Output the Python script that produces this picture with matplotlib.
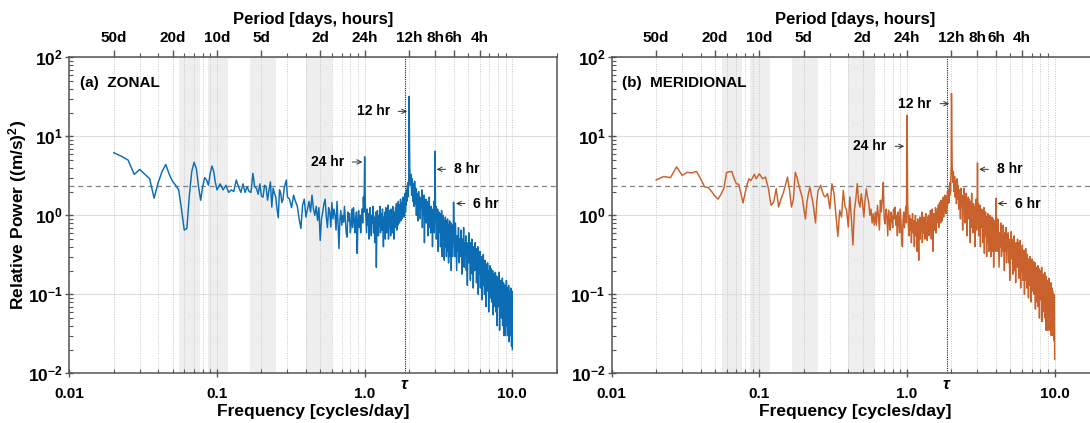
"""Zonal and meridional wind power spectra, two log-log panels."""

import matplotlib

matplotlib.use("Agg")
import matplotlib.pyplot as plt
from matplotlib.ticker import FixedLocator, FixedFormatter, NullFormatter

plt.rcParams["font.family"] = ["Liberation Sans", "DejaVu Sans"]
plt.rcParams["font.weight"] = "bold"
plt.rcParams["axes.labelweight"] = "bold"
plt.rcParams["mathtext.fontset"] = "custom"
plt.rcParams["mathtext.rm"] = "Liberation Sans:bold"
plt.rcParams["mathtext.bf"] = "Liberation Sans:bold"
plt.rcParams["mathtext.it"] = "Liberation Sans:italic"
plt.rcParams["mathtext.default"] = "bf"

# frequency grid [cycles/day]
FREQ = [
    # 0.02 - 0.1
    0.0200, 0.0225, 0.0250, 0.0275, 0.0300, 0.0325, 0.0350, 0.0375, 0.0400, 0.0425,
    0.0450, 0.0475, 0.0500, 0.0525, 0.0550, 0.0575, 0.0600, 0.0625, 0.0650, 0.0675,
    0.0700, 0.0725, 0.0750, 0.0775, 0.0800, 0.0825, 0.0850, 0.0875, 0.0900, 0.0925,
    0.0950, 0.0975, 0.1000,
    # 0.1 - 0.3
    0.105, 0.110, 0.115, 0.120, 0.125, 0.130, 0.135, 0.140, 0.145, 0.150,
    0.155, 0.160, 0.165, 0.170, 0.175, 0.180, 0.185, 0.190, 0.195, 0.200,
    0.205, 0.210, 0.215, 0.220, 0.225, 0.230, 0.235, 0.240, 0.245, 0.250,
    0.255, 0.260, 0.265, 0.270, 0.275, 0.280, 0.285, 0.290, 0.295, 0.300,
    # 0.3 - 1
    0.31, 0.32, 0.33, 0.34, 0.35, 0.36, 0.37, 0.38, 0.39, 0.40,
    0.41, 0.42, 0.43, 0.44, 0.45, 0.46, 0.47, 0.48, 0.49, 0.50,
    0.51, 0.52, 0.53, 0.54, 0.55, 0.56, 0.57, 0.58, 0.59, 0.60,
    0.61, 0.62, 0.63, 0.64, 0.65, 0.66, 0.67, 0.68, 0.69, 0.70,
    0.71, 0.72, 0.73, 0.74, 0.75, 0.76, 0.77, 0.78, 0.79, 0.80,
    0.81, 0.82, 0.83, 0.84, 0.85, 0.86, 0.87, 0.88, 0.89, 0.90,
    0.91, 0.92, 0.93, 0.94, 0.95, 0.96, 0.97, 0.98, 0.99, 1.00,
    # 1 - 2
    1.01, 1.02, 1.03, 1.04, 1.05, 1.06, 1.07, 1.08, 1.09, 1.10,
    1.11, 1.12, 1.13, 1.14, 1.15, 1.16, 1.17, 1.18, 1.19, 1.20,
    1.21, 1.22, 1.23, 1.24, 1.25, 1.26, 1.27, 1.28, 1.29, 1.30,
    1.31, 1.32, 1.33, 1.34, 1.35, 1.36, 1.37, 1.38, 1.39, 1.40,
    1.41, 1.42, 1.43, 1.44, 1.45, 1.46, 1.47, 1.48, 1.49, 1.50,
    1.51, 1.52, 1.53, 1.54, 1.55, 1.56, 1.57, 1.58, 1.59, 1.60,
    1.61, 1.62, 1.63, 1.64, 1.65, 1.66, 1.67, 1.68, 1.69, 1.70,
    1.71, 1.72, 1.73, 1.74, 1.75, 1.76, 1.77, 1.78, 1.79, 1.80,
    1.81, 1.82, 1.83, 1.84, 1.85, 1.86, 1.87, 1.88, 1.89, 1.90,
    1.91, 1.92, 1.93, 1.94, 1.95, 1.96, 1.97, 1.98, 1.99, 2.00,
    # 2 - 4
    2.02, 2.04, 2.06, 2.08, 2.10, 2.12, 2.14, 2.16, 2.18, 2.20,
    2.22, 2.24, 2.26, 2.28, 2.30, 2.32, 2.34, 2.36, 2.38, 2.40,
    2.42, 2.44, 2.46, 2.48, 2.50, 2.52, 2.54, 2.56, 2.58, 2.60,
    2.62, 2.64, 2.66, 2.68, 2.70, 2.72, 2.74, 2.76, 2.78, 2.80,
    2.82, 2.84, 2.86, 2.88, 2.90, 2.92, 2.94, 2.96, 2.98, 3.00,
    3.02, 3.04, 3.06, 3.08, 3.10, 3.12, 3.14, 3.16, 3.18, 3.20,
    3.22, 3.24, 3.26, 3.28, 3.30, 3.32, 3.34, 3.36, 3.38, 3.40,
    3.42, 3.44, 3.46, 3.48, 3.50, 3.52, 3.54, 3.56, 3.58, 3.60,
    3.62, 3.64, 3.66, 3.68, 3.70, 3.72, 3.74, 3.76, 3.78, 3.80,
    3.82, 3.84, 3.86, 3.88, 3.90, 3.92, 3.94, 3.96, 3.98, 4.00,
    # 4 - 10
    4.04, 4.08, 4.12, 4.16, 4.20, 4.24, 4.28, 4.32, 4.36, 4.40,
    4.44, 4.48, 4.52, 4.56, 4.60, 4.64, 4.68, 4.72, 4.76, 4.80,
    4.84, 4.88, 4.92, 4.96, 5.00, 5.04, 5.08, 5.12, 5.16, 5.20,
    5.24, 5.28, 5.32, 5.36, 5.40, 5.44, 5.48, 5.52, 5.56, 5.60,
    5.64, 5.68, 5.72, 5.76, 5.80, 5.84, 5.88, 5.92, 5.96, 6.00,
    6.04, 6.08, 6.12, 6.16, 6.20, 6.24, 6.28, 6.32, 6.36, 6.40,
    6.44, 6.48, 6.52, 6.56, 6.60, 6.64, 6.68, 6.72, 6.76, 6.80,
    6.84, 6.88, 6.92, 6.96, 7.00, 7.04, 7.08, 7.12, 7.16, 7.20,
    7.24, 7.28, 7.32, 7.36, 7.40, 7.44, 7.48, 7.52, 7.56, 7.60,
    7.64, 7.68, 7.72, 7.76, 7.80, 7.84, 7.88, 7.92, 7.96, 8.00,
    8.04, 8.08, 8.12, 8.16, 8.20, 8.24, 8.28, 8.32, 8.36, 8.40,
    8.44, 8.48, 8.52, 8.56, 8.60, 8.64, 8.68, 8.72, 8.76, 8.80,
    8.84, 8.88, 8.92, 8.96, 9.00, 9.04, 9.08, 9.12, 9.16, 9.20,
    9.24, 9.28, 9.32, 9.36, 9.40, 9.44, 9.48, 9.52, 9.56, 9.60,
    9.64, 9.68, 9.72, 9.76, 9.80, 9.84, 9.88, 9.92, 9.96, 10.00,
]

# relative power [(m/s)^2], zonal component
ZONAL = [
    6.2, 5.6, 5.0, 3.3, 3.8, 3.3, 2.9, 1.65, 2.6, 3.6,
    4.4, 3.3, 2.7, 2.4, 2.1, 1.2, 0.65, 0.68, 1.8, 3.6,
    4.7, 3.9, 2.3, 1.55, 2.3, 3.0, 2.8, 2.4, 3.4, 4.2,
    3.6, 2.6, 2.1,
    2.5, 2.1, 2.4, 1.95, 2.1, 2.0, 2.8, 2.3, 1.95, 2.5,
    1.95, 2.3, 2.0, 1.95, 3.4, 2.3, 2.2, 1.85, 2.5, 1.75,
    1.7, 2.4, 2.3, 1.55, 2.1, 2.65, 1.27, 2.2, 1.9, 1.7,
    1.2, 0.93, 2.1, 1.9, 1.45, 1.6, 2.2, 2.5, 2.8, 1.7,
    1.6, 1.25, 1.8, 1.5, 1.3, 0.9, 0.68, 1.35, 1.6, 0.95,
    1.2, 1.5, 1.1, 1.8, 1.2, 1.0, 1.3, 0.86, 1.25, 0.48,
    0.9, 1.1, 1.4, 1.6, 0.95, 0.7, 1.25, 1.1, 0.71, 1.45,
    0.9, 1.2, 1.0, 0.65, 1.5, 0.8, 0.38, 0.9, 1.15, 0.75,
    1.0, 0.82, 1.3, 0.9, 0.6, 0.53, 1.1, 0.85, 1.05, 0.6,
    0.75, 1.2, 0.7, 1.25, 0.9, 0.6, 0.86, 1.1, 0.33, 0.8,
    1.15, 0.7, 1.0, 0.6, 0.95, 1.2, 0.8, 1.7, 1.1, 5.5,
    1.4, 0.9, 0.6, 1.2, 0.75, 1.05, 0.5, 0.9, 1.25, 0.7,
    0.55, 1.0, 0.8, 1.3, 0.6, 0.95, 0.45, 0.85, 1.1, 0.22,
    0.7, 1.15, 0.85, 0.55, 1.0, 0.75, 1.3, 0.6, 0.9, 1.05,
    0.65, 1.2, 0.8, 0.4, 0.95, 0.7, 1.1, 0.5, 1.25, 0.85,
    0.6, 1.05, 0.75, 1.35, 0.5, 0.9, 1.15, 0.7, 1.0, 0.55,
    1.2, 0.8, 0.95, 0.6, 1.3, 0.75, 1.05, 0.5, 1.1, 0.9,
    0.7, 1.25, 0.85, 1.4, 0.65, 1.0, 1.2, 0.75, 1.5, 0.9,
    1.1, 0.8, 1.35, 0.95, 1.6, 0.85, 1.2, 1.45, 0.9, 1.3,
    1.05, 1.7, 1.2, 1.4, 0.95, 1.55, 1.25, 1.9, 1.1, 1.6,
    1.35, 2.1, 1.5, 1.8, 2.4, 1.7, 2.6, 2.2, 3.4, 32.0,
    4.0, 2.4, 3.3, 1.8, 2.9, 1.5, 2.5, 1.3, 2.7, 1.4,
    2.2, 1.0, 1.9, 1.4, 0.85, 2.0, 1.2, 1.7, 0.9, 1.6,
    1.3, 2.1, 0.7, 1.5, 1.0, 1.8, 0.45, 1.4, 1.1, 1.6,
    0.8, 1.5, 1.1, 0.55, 1.4, 0.9, 1.7, 0.7, 1.2, 0.6,
    1.3, 0.75, 1.1, 0.4, 1.2, 0.9, 1.5, 0.6, 1.0, 6.5,
    0.9, 1.3, 0.5, 1.1, 0.75, 1.2, 0.35, 0.95, 0.6, 1.1,
    0.65, 1.05, 0.4, 0.9, 0.7, 1.15, 0.3, 0.8, 0.55, 1.0,
    0.5, 0.85, 0.27, 0.8, 0.6, 0.95, 0.4, 0.75, 0.3, 0.85,
    0.5, 0.9, 0.35, 0.7, 0.25, 0.75, 0.55, 0.85, 0.3, 0.65,
    0.45, 0.8, 0.2, 0.6, 0.4, 0.75, 0.3, 0.65, 0.5, 1.47,
    0.6, 0.3, 0.8, 0.4, 0.2, 0.55, 0.35, 0.7, 0.25, 0.5,
    0.3, 0.65, 0.45, 0.18, 0.5, 0.3, 0.7, 0.22, 0.45, 0.35,
    0.55, 0.2, 0.45, 0.13, 0.4, 0.28, 0.6, 0.25, 0.35, 0.15,
    0.45, 0.25, 0.5, 0.18, 0.35, 0.12, 0.4, 0.3, 0.2, 0.45,
    0.22, 0.38, 0.14, 0.33, 0.2, 0.4, 0.1, 0.3, 0.18, 0.28,
    0.35, 0.12, 0.26, 0.17, 0.3, 0.085, 0.24, 0.15, 0.32, 0.13,
    0.22, 0.1, 0.27, 0.14, 0.2, 0.07, 0.24, 0.16, 0.11, 0.25,
    0.13, 0.2, 0.06, 0.18, 0.12, 0.23, 0.09, 0.16, 0.1, 0.21,
    0.08, 0.17, 0.12, 0.2, 0.055, 0.15, 0.1, 0.18, 0.07, 0.14,
    0.11, 0.19, 0.06, 0.14, 0.09, 0.17, 0.04, 0.12, 0.08, 0.16,
    0.07, 0.14, 0.1, 0.19, 0.035, 0.12, 0.06, 0.15, 0.08, 0.13,
    0.05, 0.12, 0.08, 0.16, 0.04, 0.11, 0.07, 0.14, 0.03, 0.1,
    0.06, 0.13, 0.045, 0.1, 0.03, 0.12, 0.07, 0.15, 0.04, 0.09,
    0.05, 0.12, 0.03, 0.1, 0.065, 0.13, 0.025, 0.09, 0.05, 0.11,
    0.04, 0.1, 0.03, 0.12, 0.05, 0.09, 0.022, 0.11, 0.035, 0.02,
]

# relative power [(m/s)^2], meridional component
MERIDIONAL = [
    2.8, 3.1, 3.0, 4.1, 3.2, 3.5, 3.45, 3.6, 2.9, 2.3,
    2.24, 2.0, 1.75, 1.6, 1.85, 2.2, 3.5, 3.55, 3.6, 2.9,
    2.5, 2.47, 1.9, 1.43, 1.9, 2.45, 2.9, 2.75, 3.0, 3.3,
    2.9, 3.1, 3.36,
    2.9, 3.05, 2.2, 1.34, 1.47, 2.17, 1.27, 1.6, 1.9, 2.4,
    3.05, 2.1, 1.27, 1.6, 3.5, 3.0, 2.4, 2.0, 1.7, 1.2,
    0.9, 1.47, 1.9, 2.28, 1.8, 1.47, 1.1, 0.8, 1.5, 2.07,
    2.2, 2.4, 2.1, 1.88, 1.75, 1.71, 1.8, 1.88, 1.5, 1.21,
    2.5, 1.9, 1.0, 0.54, 1.16, 0.95, 2.07, 1.3, 1.16, 0.71,
    1.71, 0.9, 0.42, 1.16, 1.6, 2.52, 1.5, 1.27, 1.88, 1.4,
    0.95, 1.6, 2.17, 1.7, 1.47, 1.0, 1.2, 0.8, 1.05, 0.75,
    1.1, 0.75, 1.34, 1.0, 0.65, 1.55, 1.1, 1.6, 2.6, 0.9,
    0.78, 1.2, 1.0, 0.55, 1.16, 0.8, 0.65, 1.1, 0.9, 0.7,
    1.2, 0.9, 1.27, 0.75, 1.0, 0.55, 1.1, 0.9, 0.6, 1.2,
    0.85, 0.5, 0.4, 0.9, 1.1, 0.7, 0.95, 1.3, 0.8, 18.5,
    1.5, 0.8, 0.55, 1.0, 0.65, 0.9, 0.45, 0.75, 1.05, 0.6,
    0.85, 0.4, 0.7, 1.0, 0.55, 0.8, 0.35, 0.9, 0.6, 0.27,
    0.75, 0.95, 0.5, 0.85, 0.65, 1.1, 0.45, 0.8, 0.6, 0.95,
    0.7, 0.5, 0.9, 1.05, 0.6, 0.8, 0.48, 0.95, 0.7, 1.0,
    0.55, 0.85, 0.65, 1.15, 0.75, 0.5, 0.9, 1.2, 0.6, 0.35,
    0.8, 1.05, 0.65, 0.95, 0.75, 1.25, 0.6, 0.9, 1.1, 0.8,
    1.2, 0.85, 1.35, 0.7, 1.0, 1.45, 0.9, 1.15, 0.8, 1.55,
    1.0, 1.3, 0.85, 1.45, 1.1, 1.7, 0.95, 1.35, 1.15, 1.8,
    1.25, 1.5, 1.05, 1.75, 1.3, 1.6, 1.2, 2.0, 1.4, 2.1,
    1.6, 1.9, 1.45, 2.3, 1.8, 2.6, 2.0, 3.0, 4.2, 35.0,
    4.4, 2.6, 3.6, 2.0, 3.1, 1.7, 2.7, 1.4, 2.9, 1.6,
    2.4, 1.2, 2.1, 1.5, 0.9, 2.2, 1.3, 1.8, 0.65, 1.6,
    1.4, 2.2, 0.8, 1.6, 1.1, 1.9, 0.55, 1.5, 1.2, 1.7,
    0.9, 1.6, 1.2, 0.45, 1.5, 1.0, 1.9, 0.7, 1.3, 0.6,
    1.4, 0.8, 1.2, 0.4, 1.3, 0.95, 1.6, 0.65, 1.1, 4.6,
    1.0, 1.4, 0.55, 1.2, 0.8, 1.35, 0.4, 1.05, 0.7, 1.2,
    0.75, 1.15, 0.45, 1.0, 0.8, 1.25, 0.33, 0.9, 0.6, 1.1,
    0.55, 0.95, 0.3, 0.9, 0.65, 1.05, 0.45, 0.8, 0.35, 0.95,
    0.55, 1.0, 0.4, 0.75, 0.3, 0.85, 0.6, 0.95, 0.35, 0.7,
    0.5, 0.9, 0.22, 0.65, 0.45, 0.85, 0.35, 0.7, 0.55, 1.65,
    0.65, 0.35, 0.9, 0.45, 0.22, 0.6, 0.4, 0.8, 0.3, 0.55,
    0.35, 0.75, 0.5, 0.2, 0.6, 0.35, 0.7, 0.25, 0.5, 0.4,
    0.6, 0.25, 0.5, 0.15, 0.45, 0.3, 0.62, 0.28, 0.4, 0.18,
    0.5, 0.3, 0.55, 0.2, 0.4, 0.14, 0.45, 0.32, 0.22, 0.5,
    0.27, 0.45, 0.16, 0.38, 0.24, 0.48, 0.12, 0.35, 0.2, 0.33,
    0.42, 0.15, 0.3, 0.2, 0.36, 0.1, 0.28, 0.18, 0.38, 0.15,
    0.26, 0.12, 0.32, 0.17, 0.24, 0.09, 0.28, 0.19, 0.13, 0.3,
    0.16, 0.25, 0.08, 0.22, 0.14, 0.28, 0.11, 0.2, 0.12, 0.26,
    0.1, 0.21, 0.14, 0.25, 0.065, 0.18, 0.12, 0.22, 0.08, 0.17,
    0.13, 0.23, 0.07, 0.17, 0.11, 0.21, 0.05, 0.15, 0.1, 0.2,
    0.085, 0.17, 0.12, 0.22, 0.045, 0.15, 0.075, 0.18, 0.1, 0.16,
    0.06, 0.15, 0.1, 0.19, 0.05, 0.13, 0.085, 0.17, 0.035, 0.12,
    0.07, 0.15, 0.055, 0.12, 0.035, 0.14, 0.08, 0.16, 0.05, 0.11,
    0.06, 0.13, 0.035, 0.11, 0.075, 0.14, 0.03, 0.1, 0.06, 0.12,
    0.045, 0.11, 0.03, 0.1, 0.06, 0.09, 0.026, 0.1, 0.04, 0.015,
]

SIGNIF_LEVEL = 2.33          # dashed significance line
TAU_FREQ = 1.866             # inertial frequency, cycles/day
SHADED_BANDS = [(0.0556, 0.0767), (0.0865, 0.118), (0.167, 0.25), (0.4, 0.6)]

PERIOD_TICKS = [0.02, 0.05, 0.1, 0.2, 0.5, 1, 2, 3, 4, 6]
PERIOD_LABELS = ["50d", "20d", "10d", "5d", "2d", "24h", "12h", "8h", "6h", "4h"]
FREQ_TICKS = [0.01, 0.1, 1, 10]
FREQ_LABELS = ["0.01", "0.1", "1.0", "10.0"]
POWER_TICKS = [0.01, 0.1, 1, 10, 100]
POWER_LABELS = ["10$^{-2}$", "10$^{-1}$", "10$^{0}$", "10$^{1}$", "10$^{2}$"]
MINOR_FREQS = [m * 10.0 ** e for e in (-2, -1, 0, 1) for m in range(2, 10)]
MINOR_POWERS = [m * 10.0 ** e for e in (-2, -1, 0, 1) for m in range(2, 10)]

# peak labels: (text, arrow tip (f, P), text anchor (f, P), side)
ZONAL_NOTES = [
    ("24 hr", (0.965, 4.73), (0.725, 4.73), "right"),
    ("12 hr", (1.94, 20.7), (1.48, 20.7), "right"),
    ("8 hr", (3.07, 3.82), (4.02, 3.82), "left"),
    ("6 hr", (4.15, 1.41), (5.43, 1.41), "left"),
]
MERID_NOTES = [
    ("24 hr", (0.957, 7.47), (0.728, 7.47), "right"),
    ("12 hr", (1.93, 25.9), (1.47, 25.9), "right"),
    ("8 hr", (3.08, 3.82), (4.05, 3.82), "left"),
    ("6 hr", (4.10, 1.41), (5.38, 1.41), "left"),
]

SPINE = "#555555"


def draw_panel(ax, power, color, title, notes, show_ylabel):
    for lo, hi in SHADED_BANDS:
        ax.axvspan(lo, hi, color="#eeeeee", lw=0, zorder=0)
    ax.plot(FREQ, power, color=color, lw=1.05, zorder=3)
    ax.axhline(SIGNIF_LEVEL, color="#808080", lw=0.9, ls=(0, (4, 3)), zorder=2)
    ax.axvline(TAU_FREQ, color="#222222", lw=0.8, ls=(0, (1, 1)), zorder=2)

    ax.set_xscale("log")
    ax.set_yscale("log")
    ax.set_xlim(0.01, 20)
    ax.set_ylim(0.01, 100)
    ax.set_axisbelow(True)
    ax.xaxis.set_major_locator(FixedLocator(FREQ_TICKS))
    ax.xaxis.set_major_formatter(FixedFormatter(FREQ_LABELS))
    ax.xaxis.set_minor_locator(FixedLocator(MINOR_FREQS))
    ax.xaxis.set_minor_formatter(NullFormatter())
    ax.yaxis.set_major_locator(FixedLocator(POWER_TICKS))
    ax.yaxis.set_major_formatter(FixedFormatter(POWER_LABELS))
    ax.yaxis.set_minor_locator(FixedLocator(MINOR_POWERS))
    ax.yaxis.set_minor_formatter(NullFormatter())
    ax.grid(axis="x", which="both", color="#c8c8c8", lw=0.7, ls=(0, (1, 1.5)))
    ax.grid(axis="y", which="major", color="#dddddd", lw=0.8)
    ax.tick_params(which="major", direction="inout", length=6, width=1,
                   color=SPINE, top=False, right=False)
    ax.tick_params(which="minor", direction="in", length=3, width=0.8,
                   color=SPINE, top=False, right=False)
    ax.tick_params(axis="x", labelsize=11, pad=7)
    ax.tick_params(axis="y", labelsize=12.5, pad=1.5)
    for s in ax.spines.values():
        s.set_color(SPINE)
        s.set_linewidth(1.1)

    ax.set_xlabel("Frequency [cycles/day]", fontsize=12.5, labelpad=2)
    if show_ylabel:
        ax.set_ylabel("Relative Power ((m/s)$^{2}$)", fontsize=12.5)
        ax.yaxis.set_label_coords(-0.083, 0.5)

    ax.text(TAU_FREQ, -0.012, r"$\it{\tau}$", transform=ax.get_xaxis_transform(),
            ha="center", va="top", fontsize=12)
    ax.text(0.022, 0.919, title, transform=ax.transAxes, ha="left", va="center",
            fontsize=11)

    for label, tip, anchor, side in notes:
        ax.annotate(label, xy=tip, xytext=anchor, ha=side, va="center", fontsize=10,
                    arrowprops=dict(arrowstyle="->", lw=0.7, color="#333333",
                                    shrinkA=4, shrinkB=0, mutation_scale=8))

    top = ax.twiny()
    top.set_xscale("log")
    top.set_xlim(ax.get_xlim())
    top.xaxis.set_major_locator(FixedLocator(PERIOD_TICKS))
    top.xaxis.set_major_formatter(FixedFormatter(PERIOD_LABELS))
    top.xaxis.set_minor_locator(FixedLocator(MINOR_FREQS))
    top.xaxis.set_minor_formatter(NullFormatter())
    top.tick_params(which="major", direction="out", length=5, width=1,
                    color=SPINE, labelsize=11, pad=4)
    top.tick_params(which="minor", direction="out", length=3, width=0.8, color=SPINE)
    top.set_xlabel("Period [days, hours]", fontsize=12, labelpad=5)
    for s in top.spines.values():
        s.set_visible(False)


def main():
    fig = plt.figure(figsize=(10.9, 4.23), dpi=100)
    ax_a = fig.add_axes([0.0636, 0.1175, 0.4472, 0.747])
    ax_b = fig.add_axes([0.5612, 0.1175, 0.4472, 0.747])
    draw_panel(ax_a, ZONAL, "#0c6cb4", "(a)  ZONAL", ZONAL_NOTES, True)
    draw_panel(ax_b, MERIDIONAL, "#c8612b", "(b)  MERIDIONAL", MERID_NOTES, False)
    fig.savefig("out.png", dpi=100)


if __name__ == "__main__":
    main()
